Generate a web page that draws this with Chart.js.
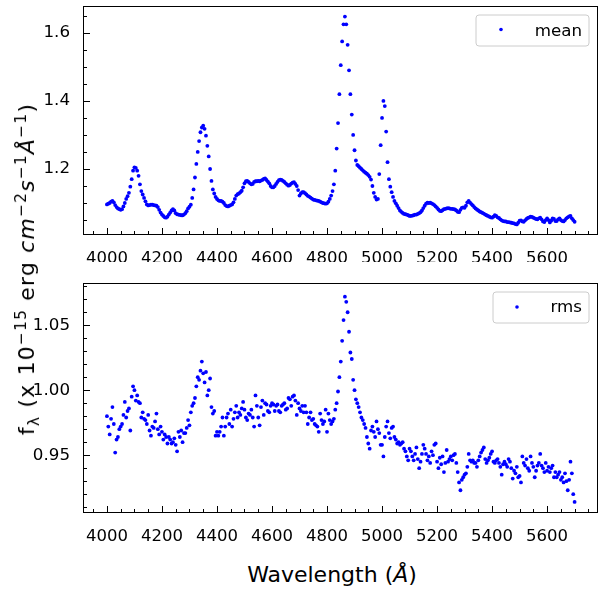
<!DOCTYPE html>
<html>
<head>
<meta charset="utf-8">
<script src="https://cdn.jsdelivr.net/npm/chart.js@4.4.1/dist/chart.umd.min.js"></script>
<style>
  html, body { margin: 0; padding: 0; background: #fff; }
  #wrap { position: relative; width: 601px; height: 591px; overflow: hidden; font-family: 'DejaVu Sans', sans-serif; color: #000; }
  canvas { position: absolute; left: 0; }
  #meanChart { top: 0; }
  #rmsChart { top: 262px; }
  #xlab { position: absolute; left: 332px; top: 563.5px; transform: translateX(-50%); font-size: 22px; line-height: 1; white-space: nowrap; }
  #ylab { position: absolute; left: 27px; top: 269px; transform: translate(-50%, -50%) rotate(-90deg); font-size: 22px; line-height: 1; letter-spacing: 1.2px; white-space: nowrap; }
  #ylab sub, #ylab sup { font-size: 70%; line-height: 0; }
  i { font-style: italic; }
</style>
</head>
<body>
<div id="wrap">
  <canvas id="meanChart" width="601" height="262"></canvas>
  <canvas id="rmsChart" width="601" height="280"></canvas>
  <div id="ylab">f<sub>λ</sub> (x 10<sup>−15</sup> erg <i>cm</i><sup>−2</sup><i>s</i><sup>−1</sup><i>Å</i><sup>−1</sup>)</div>
  <div id="xlab">Wavelength (<i>Å</i>)</div>
</div>
<script>
// wavelength grid (Angstrom)
const wavelength = [
  4000,4005,4010,4015,4020,4025,4030,4035,4040,4045,4050,4055,4060,4065,4070,4075,4080,4085,4090,4095,
  4100,4105,4110,4115,4120,4125,4130,4135,4140,4145,4150,4155,4160,4165,4170,4175,4180,4185,4190,4195,
  4200,4205,4210,4215,4220,4225,4230,4235,4240,4245,4250,4255,4260,4265,4270,4275,4280,4285,4290,4295,
  4300,4305,4310,4315,4320,4325,4330,4335,4340,4345,4350,4355,4360,4365,4370,4375,4380,4385,4390,4395,
  4400,4405,4410,4415,4420,4425,4430,4435,4440,4445,4450,4455,4460,4465,4470,4475,4480,4485,4490,4495,
  4500,4505,4510,4515,4520,4525,4530,4535,4540,4545,4550,4555,4560,4565,4570,4575,4580,4585,4590,4595,
  4600,4605,4610,4615,4620,4625,4630,4635,4640,4645,4650,4655,4660,4665,4670,4675,4680,4685,4690,4695,
  4700,4705,4710,4715,4720,4725,4730,4735,4740,4745,4750,4755,4760,4765,4770,4775,4780,4785,4790,4795,
  4800,4805,4810,4815,4820,4825,4830,4835,4840,4845,4850,4855,4860,4865,4870,4875,4880,4885,4890,4895,
  4900,4905,4910,4915,4920,4925,4930,4935,4940,4945,4950,4955,4960,4965,4970,4975,4980,4985,4990,4995,
  5000,5005,5010,5015,5020,5025,5030,5035,5040,5045,5050,5055,5060,5065,5070,5075,5080,5085,5090,5095,
  5100,5105,5110,5115,5120,5125,5130,5135,5140,5145,5150,5155,5160,5165,5170,5175,5180,5185,5190,5195,
  5200,5205,5210,5215,5220,5225,5230,5235,5240,5245,5250,5255,5260,5265,5270,5275,5280,5285,5290,5295,
  5300,5305,5310,5315,5320,5325,5330,5335,5340,5345,5350,5355,5360,5365,5370,5375,5380,5385,5390,5395,
  5400,5405,5410,5415,5420,5425,5430,5435,5440,5445,5450,5455,5460,5465,5470,5475,5480,5485,5490,5495,
  5500,5505,5510,5515,5520,5525,5530,5535,5540,5545,5550,5555,5560,5565,5570,5575,5580,5585,5590,5595,
  5600,5605,5610,5615,5620,5625,5630,5635,5640,5645,5650,5655,5660,5665,5670,5675,5680,5685,5690,5695,
  5700
];

// mean spectrum (x 1e-15)
const meanFlux = [
  1.096,1.098,1.100,1.104,1.106,1.102,1.094,1.088,1.084,1.082,1.080,1.082,1.090,1.100,1.112,1.120,1.130,1.148,1.170,1.195,
  1.205,1.203,1.195,1.180,1.155,1.135,1.125,1.115,1.105,1.096,1.093,1.094,1.095,1.095,1.094,1.093,1.092,1.088,1.080,1.072,
  1.066,1.062,1.058,1.057,1.060,1.066,1.072,1.078,1.082,1.078,1.070,1.067,1.066,1.065,1.064,1.064,1.066,1.070,1.076,1.084,
  1.089,1.095,1.115,1.140,1.175,1.215,1.250,1.282,1.308,1.322,1.327,1.318,1.298,1.268,1.237,1.200,1.165,1.140,1.128,1.118,
  1.112,1.108,1.106,1.106,1.104,1.100,1.094,1.091,1.090,1.092,1.094,1.096,1.102,1.112,1.122,1.126,1.128,1.132,1.136,1.146,
  1.158,1.164,1.165,1.162,1.158,1.155,1.156,1.162,1.164,1.164,1.165,1.164,1.166,1.168,1.171,1.172,1.168,1.163,1.158,1.150,
  1.146,1.146,1.150,1.156,1.162,1.167,1.169,1.168,1.165,1.162,1.158,1.154,1.151,1.153,1.157,1.160,1.161,1.156,1.150,1.138,
  1.122,1.128,1.132,1.132,1.129,1.125,1.121,1.119,1.116,1.113,1.110,1.109,1.108,1.107,1.106,1.104,1.102,1.100,1.099,1.098,
  1.099,1.104,1.112,1.122,1.135,1.155,1.195,1.260,1.335,1.420,1.505,1.575,1.625,1.648,1.625,1.565,1.490,1.420,1.360,1.300,
  1.255,1.225,1.212,1.208,1.204,1.200,1.196,1.192,1.189,1.186,1.182,1.177,1.169,1.150,1.130,1.118,1.110,1.112,1.185,1.270,
  1.350,1.400,1.385,1.310,1.220,1.170,1.148,1.132,1.118,1.106,1.099,1.092,1.085,1.078,1.074,1.071,1.068,1.067,1.066,1.064,
  1.062,1.062,1.063,1.064,1.066,1.066,1.068,1.070,1.073,1.078,1.085,1.092,1.098,1.101,1.100,1.101,1.099,1.097,1.094,1.090,
  1.086,1.081,1.077,1.076,1.079,1.082,1.083,1.084,1.085,1.084,1.083,1.083,1.082,1.081,1.078,1.074,1.073,1.080,1.086,1.087,
  1.086,1.092,1.102,1.106,1.101,1.097,1.093,1.088,1.084,1.081,1.078,1.075,1.073,1.071,1.069,1.066,1.064,1.062,1.060,1.058,
  1.057,1.060,1.064,1.062,1.058,1.056,1.052,1.049,1.047,1.046,1.046,1.044,1.044,1.043,1.042,1.041,1.040,1.038,1.037,1.042,
  1.048,1.049,1.046,1.045,1.049,1.053,1.056,1.058,1.060,1.059,1.057,1.055,1.053,1.052,1.055,1.057,1.052,1.046,1.044,1.050,
  1.055,1.050,1.043,1.048,1.055,1.053,1.047,1.047,1.052,1.055,1.050,1.047,1.046,1.050,1.055,1.058,1.061,1.062,1.055,1.050,
  1.045
];

// rms spectrum (x 1e-15)
const rmsFlux = [
  0.980,0.972,0.966,0.978,0.987,0.974,0.952,0.962,0.964,0.970,0.972,0.974,0.981,0.991,0.979,0.984,0.986,0.969,0.995,1.003,
  1.000,0.992,0.996,0.991,0.990,0.979,0.983,0.978,0.977,0.974,0.981,0.969,0.965,0.972,0.971,0.976,0.982,0.970,0.966,0.972,
  0.968,0.962,0.966,0.964,0.959,0.964,0.962,0.959,0.960,0.963,0.958,0.953,0.968,0.964,0.969,0.960,0.967,0.967,0.971,0.977,
  0.973,0.983,0.988,0.990,0.994,1.003,1.010,1.008,1.015,1.022,1.013,1.006,1.014,0.996,1.000,1.009,0.987,0.982,0.984,0.965,
  0.968,0.965,0.968,0.972,0.979,0.965,0.972,0.979,0.982,0.974,0.985,0.972,0.978,0.983,0.988,0.979,0.983,0.981,0.986,0.991,
  0.985,0.979,0.977,0.982,0.981,0.985,0.979,0.972,0.996,0.988,0.979,0.973,0.987,0.992,0.981,0.990,0.989,0.984,0.983,0.988,
  0.990,0.989,0.984,0.988,0.989,0.984,0.983,0.988,0.989,0.990,0.985,0.986,0.994,0.993,0.988,0.995,0.996,0.992,0.981,0.990,
  0.986,0.984,0.988,0.983,0.988,0.983,0.974,0.979,0.983,0.977,0.978,0.974,0.973,0.972,0.968,0.982,0.977,0.974,0.976,0.985,
  0.968,0.982,0.977,0.974,0.976,0.978,0.985,0.990,0.999,1.010,1.022,1.038,1.054,1.072,1.068,1.060,1.045,1.029,1.024,1.008,
  1.000,0.993,0.990,0.987,0.983,0.979,0.977,0.974,0.971,0.964,0.959,0.955,0.969,0.972,0.968,0.964,0.976,0.970,0.967,0.958,
  0.958,0.949,0.964,0.972,0.976,0.967,0.963,0.971,0.972,0.964,0.962,0.959,0.960,0.958,0.959,0.960,0.955,0.953,0.949,0.946,
  0.955,0.953,0.949,0.946,0.951,0.956,0.947,0.940,0.945,0.951,0.958,0.955,0.951,0.946,0.949,0.944,0.953,0.950,0.958,0.959,
  0.945,0.940,0.948,0.943,0.949,0.937,0.944,0.954,0.945,0.947,0.949,0.946,0.950,0.951,0.944,0.937,0.929,0.923,0.931,0.933,
  0.935,0.936,0.941,0.951,0.946,0.945,0.946,0.944,0.944,0.941,0.946,0.949,0.952,0.954,0.956,0.947,0.944,0.946,0.948,0.951,
  0.953,0.945,0.944,0.946,0.947,0.944,0.941,0.935,0.943,0.945,0.943,0.941,0.947,0.945,0.940,0.932,0.938,0.936,0.941,0.933,
  0.934,0.929,0.949,0.944,0.942,0.947,0.940,0.938,0.949,0.944,0.941,0.933,0.938,0.942,0.944,0.951,0.942,0.940,0.937,0.944,
  0.938,0.941,0.937,0.940,0.942,0.933,0.937,0.933,0.935,0.937,0.931,0.933,0.929,0.936,0.930,0.923,0.931,0.945,0.936,0.920,
  0.914
];

const xTickValues = [4000, 4200, 4400, 4600, 4800, 5000, 5200, 5400, 5600];
const xTickLabels = ['4000', '4200', '4400', '4600', '4800', '5000', '5200', '5400', '5600'];
const meanTickValues = [1.2, 1.4, 1.6];
const meanTickLabels = ['1.2', '1.4', '1.6'];
const rmsTickValues = [0.95, 1.00, 1.05];
const rmsTickLabels = ['0.95', '1.00', '1.05'];

const FONT = 'DejaVu Sans';

// inward ticks, box frame and matplotlib-like legend
const axesDeco = {
  id: 'axesDeco',
  afterDraw(chart, args, o) {
    const { ctx, chartArea: a } = chart;
    const xs = chart.scales.x, ys = chart.scales.y;
    ctx.save();
    ctx.strokeStyle = '#000';
    ctx.lineWidth = 1;
    ctx.beginPath();
    for (let k = 79; k <= 115; k++) {
      const v = k * 50;
      if (v < xs.min || v > xs.max) continue;
      const px = Math.round(xs.getPixelForValue(v)) + 0.5;
      const len = xTickValues.includes(v) ? 7 : 4;
      ctx.moveTo(px, a.bottom);
      ctx.lineTo(px, a.bottom - len);
    }
    const k0 = Math.ceil(ys.min / o.minor - 1e-6), k1 = Math.floor(ys.max / o.minor + 1e-6);
    for (let k = k0; k <= k1; k++) {
      const v = k * o.minor;
      const py = Math.round(ys.getPixelForValue(v)) + 0.5;
      const major = o.majors.some(m => Math.abs(m - v) < 1e-6);
      ctx.moveTo(a.left, py);
      ctx.lineTo(a.left + (major ? 7 : 4), py);
    }
    ctx.stroke();
    ctx.strokeRect(a.left + 0.5, a.top + 0.5, a.right - a.left - 1, a.bottom - a.top - 1);

    // legend
    const b = o.legend;
    const r = 3;
    ctx.beginPath();
    ctx.moveTo(b.x1 + r, b.y1);
    ctx.arcTo(b.x2, b.y1, b.x2, b.y2, r);
    ctx.arcTo(b.x2, b.y2, b.x1, b.y2, r);
    ctx.arcTo(b.x1, b.y2, b.x1, b.y1, r);
    ctx.arcTo(b.x1, b.y1, b.x2, b.y1, r);
    ctx.closePath();
    ctx.fillStyle = 'rgba(255,255,255,0.8)';
    ctx.fill();
    ctx.strokeStyle = '#cccccc';
    ctx.stroke();
    ctx.fillStyle = '#0000ff';
    ctx.beginPath();
    ctx.arc(b.dotX, b.dotY, 1.8, 0, Math.PI * 2);
    ctx.fill();
    ctx.fillStyle = '#000';
    ctx.font = '16.7px "' + FONT + '"';
    ctx.textAlign = 'right';
    ctx.textBaseline = 'alphabetic';
    ctx.fillText(b.text, b.textX, b.textY);
    ctx.restore();
  }
};

function makeChart(id, flux, opts) {
  const pts = wavelength.map((w, i) => ({ x: w, y: flux[i] }));
  return new Chart(document.getElementById(id), {
    type: 'scatter',
    data: {
      datasets: [{
        label: opts.legend.text,
        data: pts,
        pointRadius: 1.9,
        pointBorderWidth: 0,
        pointBackgroundColor: '#0000ff',
        pointHoverRadius: 1.9
      }]
    },
    options: {
      responsive: false,
      animation: false,
      events: [],
      layout: { padding: { left: 0, top: opts.padTop, right: 3, bottom: 0 } },
      plugins: {
        legend: { display: false },
        tooltip: { enabled: false },
        axesDeco: { minor: opts.minor, majors: opts.tickValues, legend: opts.legend }
      },
      scales: {
        x: {
          type: 'linear',
          position: 'bottom',
          min: 3913,
          max: 5785,
          grid: { display: false },
          border: { display: false },
          afterBuildTicks: s => { s.ticks = xTickValues.map(v => ({ value: v })); },
          afterFit: s => { s.height = opts.xAxisH; s.paddingLeft = 0; s.paddingRight = 0; },
          ticks: {
            autoSkip: false,
            maxRotation: 0,
            padding: 6,
            color: '#000',
            font: { family: FONT, size: 16.5 },
            callback: (v, i) => xTickLabels[i]
          }
        },
        y: {
          type: 'linear',
          min: opts.yMin,
          max: opts.yMax,
          grid: { display: false },
          border: { display: false },
          afterBuildTicks: s => { s.ticks = opts.tickValues.map(v => ({ value: v })); },
          afterFit: s => { s.width = 83; s.paddingTop = 0; s.paddingBottom = 0; },
          ticks: {
            padding: 5,
            color: '#000',
            font: { family: FONT, size: 16.7 },
            callback: (v, i) => opts.tickLabels[i]
          }
        }
      }
    },
    plugins: [axesDeco]
  });
}

makeChart('meanChart', meanFlux, {
  padTop: 6, xAxisH: 27,
  yMin: 1.006, yMax: 1.679,
  tickValues: meanTickValues, tickLabels: meanTickLabels, minor: 0.05,
  legend: { x1: 476, y1: 15, x2: 589, y2: 46, dotX: 501, dotY: 29.5, text: 'mean', textX: 582, textY: 36 }
});

makeChart('rmsChart', rmsFlux, {
  padTop: 21, xAxisH: 29,
  yMin: 0.9055, yMax: 1.0825,
  tickValues: rmsTickValues, tickLabels: rmsTickLabels, minor: 0.01,
  legend: { x1: 493, y1: 30, x2: 589, y2: 61, dotX: 517, dotY: 45, text: 'rms', textX: 582, textY: 50 }
});
</script>
</body>
</html>
